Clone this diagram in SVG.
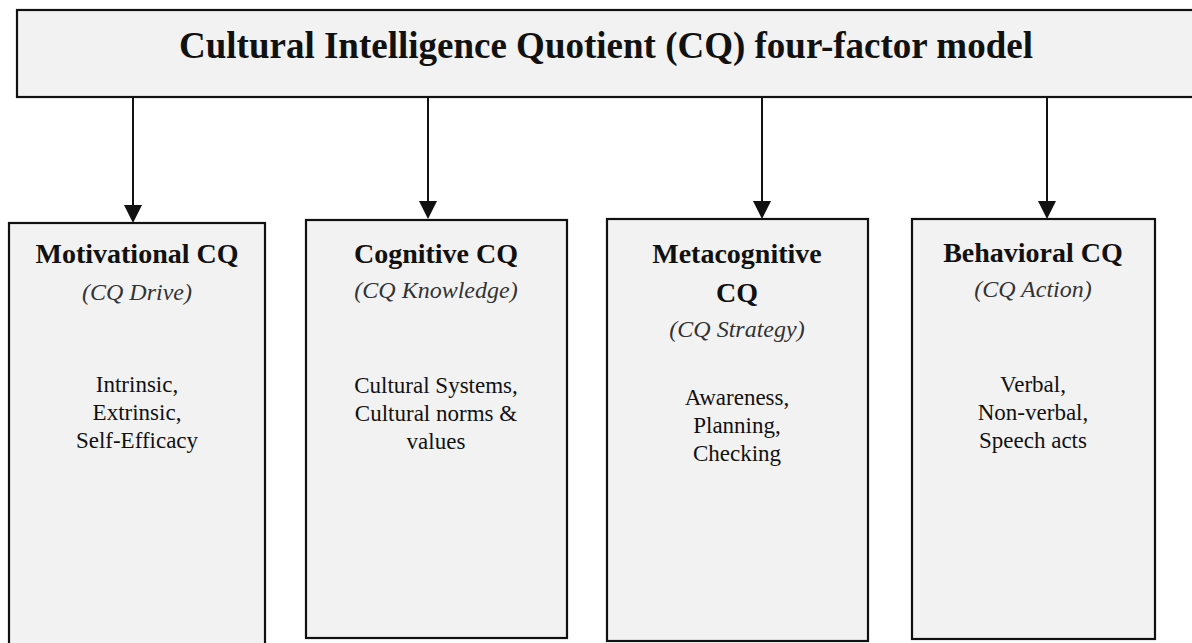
<svg xmlns="http://www.w3.org/2000/svg" width="1192" height="643" viewBox="0 0 1192 643">
<style>
.box{fill:#f2f2f2;stroke:#111;stroke-width:2.2}
.t{font-family:"Liberation Serif",serif;fill:#111;text-anchor:middle}
.title{font-size:37px;font-weight:bold}
.h{font-size:28px;font-weight:bold}
.i{font-size:24px;font-style:italic;fill:#333}
.b{font-size:23px}
.conn{stroke:#111;stroke-width:2;fill:none}
</style>
<defs>
<marker id="ah" viewBox="0 0 10 10" refX="10" refY="5" markerWidth="9" markerHeight="9" markerUnits="userSpaceOnUse" orient="auto">
<path d="M0,0 L10,5 L0,10 z" fill="#111"/>
</marker>
</defs>
<rect width="1192" height="643" fill="#ffffff"/>
<g id="top">
<rect class="box" x="17" y="10" width="1190" height="87"/>
<text class="t title" x="606" y="58">Cultural Intelligence Quotient (CQ) four-factor model</text>
</g>
<g id="connectors">
<path class="conn" d="M133,97 V205"/>
<path d="M124,205 L142,205 L133,223 z" fill="#111"/>
<path class="conn" d="M428,97 V201"/>
<path d="M419,201 L437,201 L428,219 z" fill="#111"/>
<path class="conn" d="M762,97 V201"/>
<path d="M753,201 L771,201 L762,219 z" fill="#111"/>
<path class="conn" d="M1047,97 V201"/>
<path d="M1038,201 L1056,201 L1047,219 z" fill="#111"/>
</g>
<g id="motivational">
<rect class="box" x="9" y="223" width="256" height="430"/>
<text class="t h" x="137" y="263">Motivational CQ</text>
<text class="t i" x="137" y="300">(CQ Drive)</text>
<text class="t b" x="137" y="392">Intrinsic,</text>
<text class="t b" x="137" y="420">Extrinsic,</text>
<text class="t b" x="137" y="448">Self-Efficacy</text>
</g>
<g id="cognitive">
<rect class="box" x="306" y="220" width="261" height="418"/>
<text class="t h" x="436" y="263">Cognitive CQ</text>
<text class="t i" x="436" y="298">(CQ Knowledge)</text>
<text class="t b" x="436" y="393">Cultural Systems,</text>
<text class="t b" x="436" y="421">Cultural norms &amp;</text>
<text class="t b" x="436" y="449">values</text>
</g>
<g id="metacognitive">
<rect class="box" x="607" y="219" width="261" height="422"/>
<text class="t h" x="737" y="263">Metacognitive</text>
<text class="t h" x="737" y="302">CQ</text>
<text class="t i" x="737" y="337">(CQ Strategy)</text>
<text class="t b" x="737" y="405">Awareness,</text>
<text class="t b" x="737" y="433">Planning,</text>
<text class="t b" x="737" y="461">Checking</text>
</g>
<g id="behavioral">
<rect class="box" x="912" y="219" width="243" height="420"/>
<text class="t h" x="1033" y="262">Behavioral CQ</text>
<text class="t i" x="1033" y="297">(CQ Action)</text>
<text class="t b" x="1033" y="392">Verbal,</text>
<text class="t b" x="1033" y="420">Non-verbal,</text>
<text class="t b" x="1033" y="448">Speech acts</text>
</g>
</svg>
